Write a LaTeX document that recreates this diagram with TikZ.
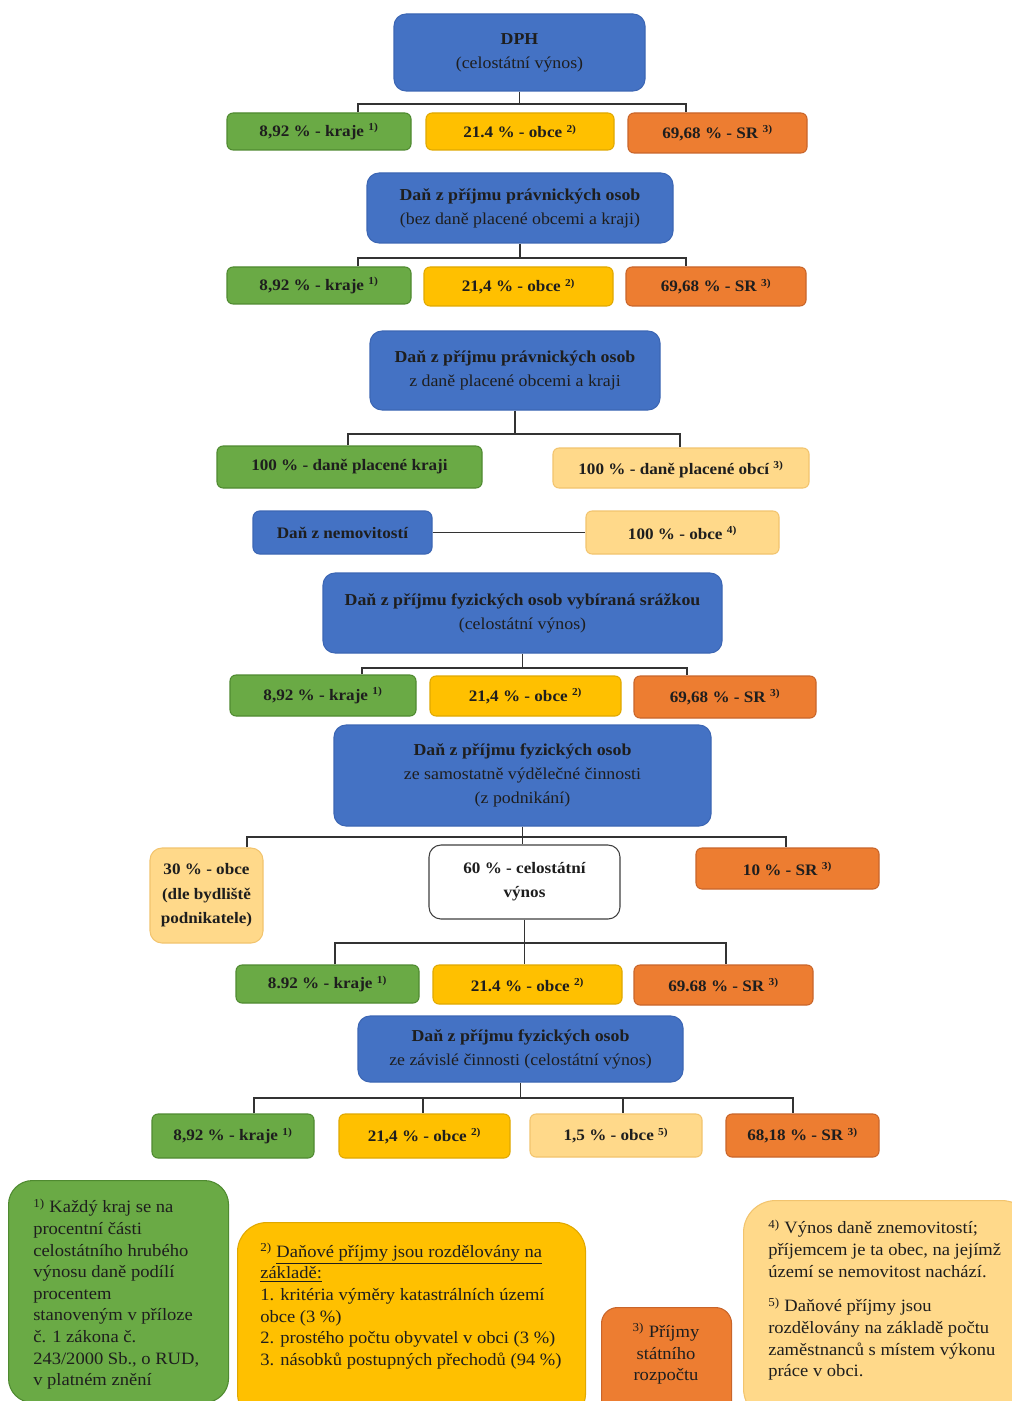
\documentclass[tikz,border=0pt]{standalone}
\usepackage{fontspec}
\setmainfont{Liberation Serif}[FakeStretch=1.07]
\definecolor{cblue}{HTML}{4472C4}
\definecolor{cbluedk}{HTML}{3C66B4}
\definecolor{cgreen}{HTML}{6AAA45}
\definecolor{cgreendk}{HTML}{4F8A30}
\definecolor{cgold}{HTML}{FFC000}
\definecolor{cgolddk}{HTML}{E0A800}
\definecolor{corange}{HTML}{ED7D31}
\definecolor{corangedk}{HTML}{C9652A}
\definecolor{clight}{HTML}{FFD98A}
\definecolor{clightdk}{HTML}{F2C46E}
\definecolor{ctext}{HTML}{1E1E1E}
\tikzset{
  base/.style={rounded corners=4.5pt, line width=0.8pt, align=center, text=ctext, inner sep=0pt,
    font={\bfseries\fontsize{12}{18}\selectfont}},
  sz/.style 2 args={minimum width=#1*0.75pt, minimum height=#2*0.75pt},
  bluebox/.style={base, fill=cblue, draw=cbluedk, rounded corners=9pt, font={\fontsize{12.5}{18}\selectfont}},
  greenbox/.style={base, fill=cgreen, draw=cgreendk},
  goldbox/.style={base, fill=cgold, draw=cgolddk},
  orangebox/.style={base, fill=corange, draw=corangedk},
  lightbox/.style={base, fill=clight, draw=clightdk},
  whitebox/.style={base, fill=white, draw=ctext!85, rounded corners=9pt},
  fnbox/.style={rounded corners=18pt, line width=0.8pt, inner sep=0pt, anchor=north west},
  fntext/.style={align=left, text=ctext, inner sep=0pt, anchor=west, font={\fontsize{13}{16.2}\selectfont}},
  conn/.style={draw=black!80, line width=0.9pt},
}
\begin{document}
\begin{tikzpicture}[x=0.75pt,y=-0.75pt]
\useasboundingbox (0,0) rectangle (1012,1401);
\fill[white] (0,0) rectangle (1012,1401);

% Row 1 -- DPH
\node[bluebox, sz={251}{77}] (dph) at (519.5,52.5) {\textbf{DPH}\\(celostátní výnos)};
\node[greenbox, sz={184}{37}] (r1a) at (319,131.5) {8,92 \% - kraje \textsuperscript{1)}};
\node[goldbox, sz={188}{37}] (r1b) at (520,131.5) {21.4 \% - obce \textsuperscript{2)}};
\node[orangebox, sz={179}{40}] (r1c) at (717.5,133) {69,68 \% - SR \textsuperscript{3)}};
\coordinate (h1L) at (358,104); \coordinate (h1R) at (686,104);
\draw[conn] (dph.south) -- (dph.south |- h1L);
\draw[conn] (r1a.north -| h1L) -- (h1L) -- (h1R) -- (r1c.north -| h1R);

% Row 2
\node[bluebox, sz={306}{70}] (pp1) at (520,208) {\textbf{Daň z příjmu právnických osob}\\(bez daně placené obcemi a kraji)};
\node[greenbox, sz={184}{37}] (r2a) at (319,285.5) {8,92 \% - kraje \textsuperscript{1)}};
\node[goldbox, sz={189}{39}] (r2b) at (518.5,286.5) {21,4 \% - obce \textsuperscript{2)}};
\node[orangebox, sz={180}{39}] (r2c) at (716,286.5) {69,68 \% - SR \textsuperscript{3)}};
\coordinate (h2L) at (358,258); \coordinate (h2R) at (686,258);
\draw[conn] (pp1.south) -- (pp1.south |- h2L);
\draw[conn] (r2a.north -| h2L) -- (h2L) -- (h2R) -- (r2c.north -| h2R);

% Row 3
\node[bluebox, sz={290}{79}] (pp2) at (515,370.5) {\textbf{Daň z příjmu právnických osob}\\z daně placené obcemi a kraji};
\node[greenbox, sz={265}{42}] (r3a) at (349.5,467) {100 \% - daně placené kraji};
\node[lightbox, sz={256}{40}, text depth=-2pt] (r3b) at (681,468) {100 \% - daně placené obcí \textsuperscript{3)}};
\coordinate (h3L) at (348,434); \coordinate (h3R) at (680,434);
\draw[conn] (pp2.south) -- (pp2.south |- h3L);
\draw[conn] (r3a.north -| h3L) -- (h3L) -- (h3R) -- (r3b.north -| h3R);

% Row 4
\node[bluebox, sz={179}{43}, rounded corners=5pt, font={\bfseries\fontsize{12}{18}\selectfont}] (nem) at (342.5,532.5) {Daň z nemovitostí};
\node[lightbox, sz={193}{43}] (r4) at (682.5,532.5) {100 \% - obce \textsuperscript{4)}};
\draw[conn] (nem) -- (r4);

% Row 5
\node[bluebox, sz={399}{80}] (fo1) at (522.5,613) {\textbf{Daň z příjmu fyzických osob vybíraná srážkou}\\(celostátní výnos)};
\node[greenbox, sz={186}{41}] (r5a) at (323,695.5) {8,92 \% - kraje \textsuperscript{1)}};
\node[goldbox, sz={191}{40}] (r5b) at (525.5,696) {21,4 \% - obce \textsuperscript{2)}};
\node[orangebox, sz={182}{42}] (r5c) at (725,697) {69,68 \% - SR \textsuperscript{3)}};
\coordinate (h5L) at (362,668); \coordinate (h5R) at (687,668);
\draw[conn] (fo1.south) -- (fo1.south |- h5L);
\draw[conn] (r5a.north -| h5L) -- (h5L) -- (h5R) -- (r5c.north -| h5R);

% Row 6
\node[bluebox, sz={377}{101}] (fo2) at (522.5,775.5) {\textbf{Daň z příjmu fyzických osob}\\ze samostatně výdělečné činnosti\\(z podnikání)};
\node[lightbox, sz={113}{95}, rounded corners=9pt, font={\bfseries\fontsize{12}{18.4}\selectfont}] (r6a) at (206.5,895.5) {30 \% - obce\\(dle bydliště\\podnikatele)};
\node[whitebox, sz={191}{74}] (r6b) at (524.5,882) {60 \% - celostátní\\výnos};
\node[orangebox, sz={183}{41}] (r6c) at (787.5,868.5) {10 \% - SR \textsuperscript{3)}};
\coordinate (h6L) at (247,837); \coordinate (h6R) at (786,837);
\draw[conn] (fo2.south) -- (fo2.south |- r6b.north);
\draw[conn] (r6a.north -| h6L) -- (h6L) -- (h6R) -- (r6c.north -| h6R);

\node[greenbox, sz={183}{38}] (r7a) at (327.5,984) {8.92 \% - kraje \textsuperscript{1)}};
\node[goldbox, sz={189}{39}] (r7b) at (527.5,984.5) {21.4 \% - obce \textsuperscript{2)}};
\node[orangebox, sz={179}{40}] (r7c) at (723.5,985) {69.68 \% - SR \textsuperscript{3)}};
\coordinate (h7L) at (335,943); \coordinate (h7R) at (726,943);
\draw[conn] (r6b.south) -- (r6b.south |- r7b.north);
\draw[conn] (r7a.north -| h7L) -- (h7L) -- (h7R) -- (r7c.north -| h7R);

% Row 7
\node[bluebox, sz={325}{66}] (fo3) at (520.5,1049) {\textbf{Daň z příjmu fyzických osob}\\ze závislé činnosti (celostátní výnos)};
\node[greenbox, sz={162}{44}] (r8a) at (233,1136) {8,92 \% - kraje \textsuperscript{1)}};
\node[goldbox, sz={171}{44}] (r8b) at (424.5,1136) {21,4 \% - obce \textsuperscript{2)}};
\node[lightbox, sz={172}{43}] (r8c) at (616,1135.5) {1,5 \% - obce \textsuperscript{5)}};
\node[orangebox, sz={153}{43}] (r8d) at (802.5,1135.5) {68,18 \% - SR \textsuperscript{3)}};
\coordinate (h8L) at (254,1098); \coordinate (h8b) at (423,1098);
\coordinate (h8c) at (623,1098); \coordinate (h8R) at (793,1098);
\draw[conn] (fo3.south) -- (fo3.south |- h8L);
\draw[conn] (r8a.north -| h8L) -- (h8L) -- (h8R) -- (r8d.north -| h8R);
\draw[conn] (h8b) -- (h8b |- r8b.north);
\draw[conn] (h8c) -- (h8c |- r8c.north);

% Footnotes
\node[fnbox, fill=cgreen, draw=cgreendk, sz={220}{222}] (n1) at (8,1180) {};
\node[fntext] (n1t) at (33,1294) {\textsuperscript{1)} Každý kraj se na\\procentní části\\celostátního hrubého\\výnosu daně podílí\\procentem\\stanoveným v příloze\\č. 1 zákona č.\\243/2000 Sb., o RUD,\\v platném znění};

\node[fnbox, fill=cgold, draw=cgolddk, sz={348}{200}, rounded corners=22pt] (n2) at (237,1222) {};
\node[fntext] (n2t) at (260,1306) {\textsuperscript{2)} \underline{Daňové příjmy jsou rozdělovány na}\\\underline{základě:}\\1. kritéria výměry katastrálních území\\obce (3 \%)\\2. prostého počtu obyvatel v obci (3 \%)\\3. násobků postupných přechodů (94 \%)};

\node[fnbox, fill=corange, draw=corangedk, sz={130}{110}, rounded corners=12pt] (n3) at (601,1307) {};
\node[fntext, align=center, anchor=center] (n3t) at (666,1354) {\textsuperscript{3)} Příjmy\\státního\\rozpočtu};

\node[fnbox, fill=clight, draw=clightdk, sz={290}{220}, rounded corners=24pt] (n4) at (743,1200) {};
\node[fntext] (n4t) at (768,1300) {\textsuperscript{4)} Výnos daně znemovitostí;\\příjemcem je ta obec, na jejímž\\území se nemovitost nachází.\\[10pt]\textsuperscript{5)} Daňové příjmy jsou\\rozdělovány na základě počtu\\zaměstnanců s místem výkonu\\práce v obci.};
\end{tikzpicture}
\end{document}
